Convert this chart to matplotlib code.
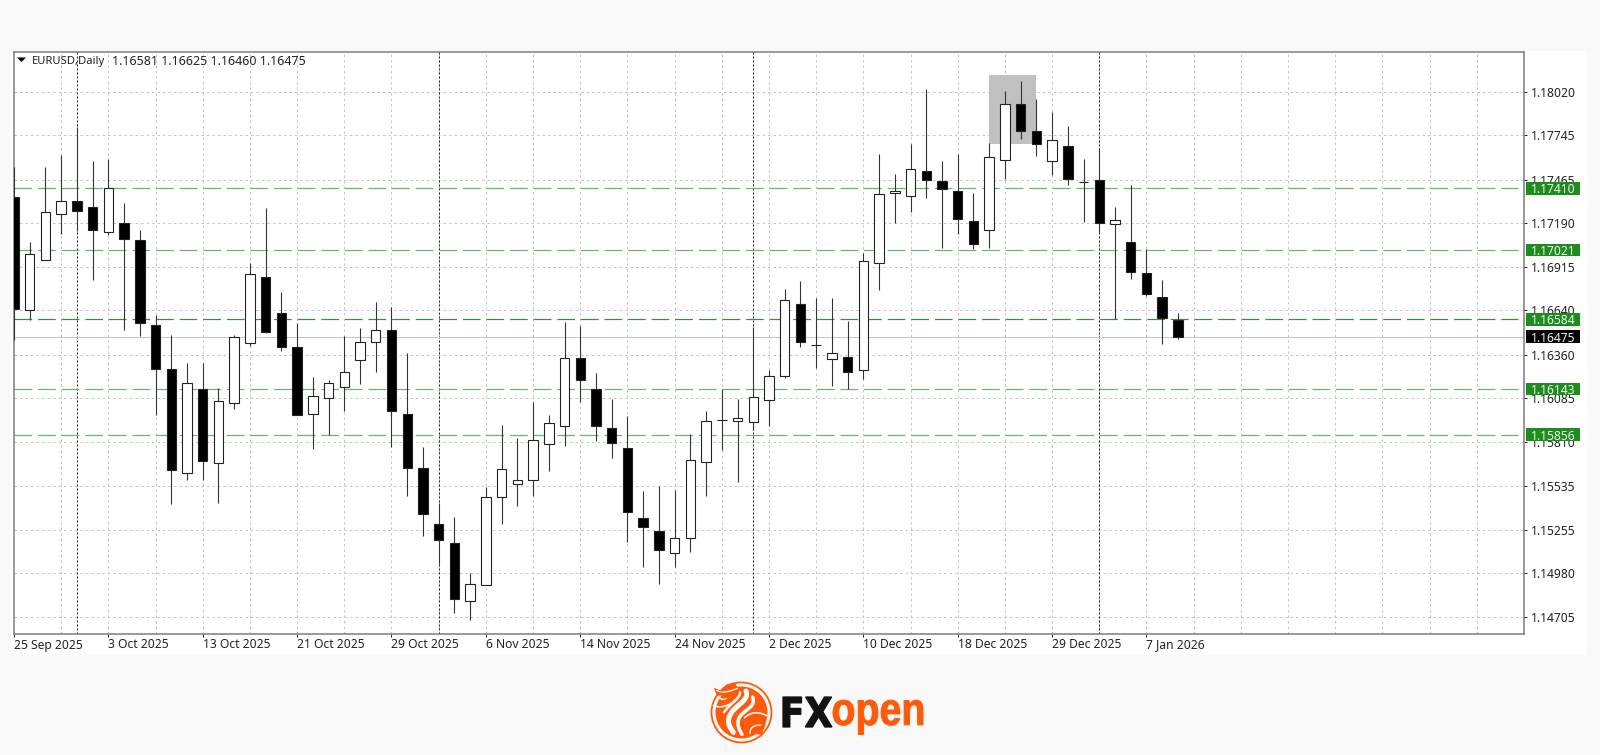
import matplotlib
matplotlib.use("Agg")
import numpy as np
import matplotlib.pyplot as plt
from matplotlib.patches import Circle, Polygon, PathPatch, Rectangle
from matplotlib.path import Path
from matplotlib.textpath import TextPath
from matplotlib.font_manager import FontProperties
from matplotlib.transforms import Affine2D

plt.rcParams["font.family"] = ["Noto Sans", "DejaVu Sans"]
plt.rcParams["lines.scale_dashes"] = False

# ---------------------------------------------------------------------------
# EURUSD daily candles
# ---------------------------------------------------------------------------
opens = [1.17357, 1.16641, 1.16960, 1.17248, 1.17328, 1.17291, 1.17137, 1.17190, 1.17086, 1.16546,
         1.16270, 1.15612, 1.16144, 1.15675, 1.16054, 1.16436, 1.16849, 1.16624, 1.16411, 1.15984,
         1.16085, 1.16155, 1.16329, 1.16443, 1.16516, 1.15988, 1.15647, 1.15292, 1.15174, 1.14806,
         1.14909, 1.15464, 1.15547, 1.15568, 1.15799, 1.15912, 1.16342, 1.16144, 1.15896, 1.15774,
         1.15332, 1.15248, 1.15111, 1.15202, 1.15682, 1.15950, 1.15940, 1.15934, 1.16075, 1.16226,
         1.16680, 1.16424, 1.16335, 1.16348, 1.16266, 1.16939, 1.17383, 1.17360, 1.17522, 1.17457,
         1.17392, 1.17204, 1.17147, 1.17587, 1.17944, 1.17774, 1.17583, 1.17677, 1.17452, 1.17463,
         1.17187, 1.17074, 1.16878, 1.16725, 1.16581]
highs = [1.17547, 1.17074, 1.17545, 1.17621, 1.17795, 1.17585, 1.17595, 1.17316, 1.17147, 1.16611,
         1.16485, 1.16310, 1.16306, 1.16148, 1.16485, 1.16941, 1.17284, 1.16758, 1.16559, 1.16222,
         1.16201, 1.16478, 1.16527, 1.16693, 1.16660, 1.16373, 1.15778, 1.15427, 1.15338, 1.14985,
         1.15528, 1.15915, 1.15835, 1.16062, 1.15982, 1.16565, 1.16543, 1.16247, 1.16083, 1.15976,
         1.15502, 1.15532, 1.15507, 1.15862, 1.16007, 1.16142, 1.16079, 1.16537, 1.16264, 1.16775,
         1.16824, 1.16718, 1.16720, 1.16575, 1.17004, 1.17627, 1.17499, 1.17690, 1.18039, 1.17583,
         1.17627, 1.17379, 1.17694, 1.18024, 1.18086, 1.17972, 1.17894, 1.17804, 1.17595, 1.17663,
         1.17291, 1.17431, 1.17029, 1.16832, 1.16625]
lows = [1.16453, 1.16579, 1.16960, 1.17122, 1.17143, 1.16832, 1.17116, 1.16516, 1.16478, 1.15982,
        1.15420, 1.15572, 1.15572, 1.15427, 1.16018, 1.16417, 1.16496, 1.16386, 1.15982, 1.15765,
        1.15854, 1.16005, 1.16176, 1.16253, 1.15776, 1.15469, 1.15216, 1.15040, 1.14733, 1.14686,
        1.14909, 1.15294, 1.15406, 1.15469, 1.15627, 1.15786, 1.16062, 1.15818, 1.15711, 1.15177,
        1.15021, 1.14912, 1.15019, 1.15114, 1.15469, 1.15759, 1.15555, 1.15885, 1.15911, 1.16215,
        1.16407, 1.16275, 1.16163, 1.16143, 1.16207, 1.16771, 1.17193, 1.17263, 1.17349, 1.17032,
        1.17122, 1.17026, 1.17032, 1.17471, 1.17723, 1.17614, 1.17492, 1.17431, 1.17200, 1.17137,
        1.16584, 1.16840, 1.16729, 1.16426, 1.16460]
closes = [1.16649, 1.16996, 1.17261, 1.17328, 1.17269, 1.17147, 1.17412, 1.17089, 1.16560, 1.16268,
          1.15635, 1.16180, 1.15690, 1.16066, 1.16472, 1.16872, 1.16502, 1.16411, 1.15982, 1.16100,
          1.16180, 1.16251, 1.16443, 1.16516, 1.16003, 1.15646, 1.15357, 1.15191, 1.14817, 1.14914,
          1.15461, 1.15637, 1.15568, 1.15822, 1.15928, 1.16342, 1.16201, 1.15912, 1.15803, 1.15368,
          1.15273, 1.15126, 1.15202, 1.15698, 1.15940, 1.15946, 1.15959, 1.16094, 1.16228, 1.16708,
          1.16441, 1.16420, 1.16369, 1.16253, 1.16950, 1.17373, 1.17395, 1.17532, 1.17463, 1.17406,
          1.17215, 1.17057, 1.17606, 1.17944, 1.17772, 1.17688, 1.17713, 1.17471, 1.17448, 1.17190,
          1.17208, 1.16882, 1.16742, 1.16592, 1.16475]

price_ticks = [1.18020, 1.17745, 1.17465, 1.17190, 1.16915, 1.16640, 1.16360,
               1.16085, 1.15810, 1.15535, 1.15255, 1.14980, 1.14705]
date_labels = ["25 Sep 2025", "3 Oct 2025", "13 Oct 2025", "21 Oct 2025", "29 Oct 2025",
               "6 Nov 2025", "14 Nov 2025", "24 Nov 2025", "2 Dec 2025", "10 Dec 2025",
               "18 Dec 2025", "29 Dec 2025", "7 Jan 2026"]
date_bars = [0, 6, 12, 18, 24, 30, 36, 42, 48, 54, 60, 66, 72]
month_bars = [4, 27, 47, 69]
levels = [1.17410, 1.17021, 1.16584, 1.16143, 1.15856]
level_colors = ["#6fb06f", "#6fb06f", "#3a8f3a", "#6fb06f", "#6fb06f"]
last_price = 1.16475
header_name = "EURUSD,Daily"
header_values = "1.16581 1.16625 1.16460 1.16475"
box_bars = (62, 65)
box_prices = (1.17692, 1.18126)

PX = 1 / 100 * 72  # one pixel in points
W, H = 1600, 755
LEFT, RIGHT, TOP, BOTTOM = 14, 1524.3, 52.3, 634

fig = plt.figure(figsize=(16, 7.55), dpi=100, facecolor="#f9f9f9")

# background panel and logo live on a pixel-sized axes
bg = fig.add_axes([0, 0, 1, 1], zorder=0)
bg.set_xlim(0, W)
bg.set_ylim(H, 0)
bg.axis("off")
bg.add_patch(Rectangle((11, 51), 1576, 604, fc="white", ec="none"))


def emblem(points):
    # emblem outline was measured on a 3x crop starting at (700, 675)
    return [(700 + x / 3, 675 + y / 3) for x, y in points]


def stroke(points, lw, color="white"):
    # points: start plus triples of bezier control points
    codes = [Path.MOVETO] + [Path.CURVE4] * (len(points) - 1)
    bg.add_patch(PathPatch(Path(emblem(points), codes), fc="none", ec=color, lw=lw * PX, capstyle="round"))


def fit_text(s, x0, y0, x1, y1, color, family, edge):
    tp = TextPath((0, 0), s, size=10, prop=FontProperties(family=family, weight="bold"))
    b = tp.get_extents()
    tr = (Affine2D().translate(-b.x0, -b.y1)
          .scale((x1 - x0) / b.width, -(y1 - y0) / b.height)
          .translate(x0, y0))
    bg.add_patch(PathPatch(tp, transform=tr + bg.transData, fc=color, ec=color, lw=edge))


ORANGE = "#ff5a0a"
bg.add_patch(Circle((741.5, 712.5), 30, fc="none", ec=ORANGE, lw=1.3))
bg.add_patch(Circle((741.5, 712.5), 26, fc=ORANGE, ec="none"))
# bull horns and bear head stick out of the disk
bg.add_patch(Polygon(emblem([(42, 38), (60, 46), (80, 28), (104, 22), (118, 46), (96, 62), (50, 62)]),
                     closed=True, fc=ORANGE, ec="none"))
bg.add_patch(Polygon(emblem([(150, 120), (178, 112), (200, 128), (196, 150), (186, 178), (140, 178)]),
                     closed=True, fc=ORANGE, ec="none"))
# white swooshes through the body
stroke([(138, 48), (150, 80), (100, 90), (88, 125), (80, 145), (92, 160), (100, 172)], 5)
stroke([(120, 52), (122, 70), (86, 90), (72, 112)], 2.4)
stroke([(158, 66), (170, 100), (125, 105), (116, 132), (110, 150), (118, 165), (126, 178)], 3.5)
# head and bear outlines
stroke([(40, 92), (60, 100), (90, 95), (112, 68)], 1.6)
stroke([(50, 46), (66, 56), (90, 50), (112, 40)], 1.3)
stroke([(134, 128), (150, 112), (176, 108), (200, 122)], 1.6)
stroke([(150, 176), (148, 160), (160, 150), (182, 150)], 1.3)
stroke([(60, 70), (66, 74), (72, 74), (78, 70)], 1.3)

fit_text("FX", 783, 697, 832, 727, "#111111", "DejaVu Sans", 0.9)
fit_text("open", 833, 700, 923, 734.5, ORANGE, "Liberation Sans", 0.7)

# ---------------------------------------------------------------------------
# Chart
# ---------------------------------------------------------------------------
ax = fig.add_axes([LEFT / W, 1 - BOTTOM / H, (RIGHT - LEFT) / W, (BOTTOM - TOP) / H], zorder=1)
ax.set_facecolor("white")
ax.set_xlim(0, 96.02)
ax.set_ylim(1.14598, 1.18269)
ax.set_axisbelow(True)

for side in ["left", "right", "bottom", "top"]:
    ax.spines[side].set_color("#7a7a7a")
    ax.spines[side].set_linewidth(1.5 * PX)

# grid: every 3rd bar, plus the price ticks
grid_dash = (0, (2.5 * PX, 3 * PX))
for b in range(3, 96, 3):
    ax.axvline(b, color="#c6c6c6", lw=1 * PX, ls=grid_dash, zorder=0.5)
for p in price_ticks:
    ax.axhline(p, color="#c6c6c6", lw=1 * PX, ls=grid_dash, zorder=0.5)
for b in month_bars:
    ax.axvline(b, color="#222222", lw=1 * PX, ls=(0, (2 * PX, 2 * PX)), zorder=0.7)

ax.add_patch(Rectangle((box_bars[0], box_prices[0]), box_bars[1] - box_bars[0],
                       box_prices[1] - box_prices[0], fc="#c0c0c0", ec="none", zorder=1))

# price line and horizontal levels
ax.axhline(last_price, color="#c4c4c4", lw=1 * PX, zorder=1.5)
for lev, col in zip(levels, level_colors):
    ax.plot([0, 95.6], [lev, lev], color=col, lw=1.2 * PX,
            ls=(0, (17.7 * PX, 5.9 * PX)), dash_capstyle="butt", zorder=2)

# candles
bars = np.arange(len(opens))
op, hi, lo, cl = map(np.array, (opens, highs, lows, closes))
ax.vlines(bars, lo, hi, color="#333333", lw=1.1 * PX, zorder=3)
body_low = np.minimum(op, cl)
body_h = np.abs(cl - op)
face = ["white" if c > o else "black" for o, c in zip(op, cl)]
ax.bar(bars, body_h, bottom=body_low, width=0.6, color=face, edgecolor="#222222", linewidth=1.1 * PX, zorder=4)

# axes ticks
ax.yaxis.tick_right()
ax.set_yticks(price_ticks)
ax.set_yticklabels([f"{p:.5f}" for p in price_ticks])
ax.tick_params(axis="y", length=3 * PX, width=1 * PX, color="#222222", pad=4 * PX,
               labelsize=8.7, labelcolor="#222222")
ax.set_xticks(date_bars)
ax.set_xticklabels(date_labels, ha="left")
ax.tick_params(axis="x", length=3 * PX, width=1 * PX, color="#222222", pad=1.5 * PX,
               labelsize=8.7, labelcolor="#222222")

# level labels right of the plot
yt = ax.get_yaxis_transform()
box_x = 1 + 1.7 / (RIGHT - LEFT)
box_w = 54 / (RIGHT - LEFT)
box_h = 12.5 * (1.18269 - 1.14598) / (BOTTOM - TOP)
for lev, txt, col in [(v, f"{v:.5f}", "#1f8c1f") for v in levels] + [(last_price, f"{last_price:.5f}", "black")]:
    ax.add_patch(Rectangle((box_x, lev - box_h / 2), box_w, box_h, transform=yt, fc=col, ec="none",
                           clip_on=False, zorder=6))
    ax.text(box_x + box_w / 2, lev, txt, transform=yt, color="#eef7ee", fontsize=8.7,
            ha="center", va="center_baseline", zorder=7)

# header
ax.add_patch(Polygon([(17, 57.5), (26, 57.5), (21.5, 62)], closed=True, transform=bg.transData, fc="black",
                     ec="none", clip_on=False, zorder=7))
ax.text(18 / (RIGHT - LEFT), 1 - 7.6 / (BOTTOM - TOP), header_name, transform=ax.transAxes, fontsize=8.1,
        color="#222222", ha="left", va="center_baseline", zorder=7)
ax.text(98 / (RIGHT - LEFT), 1 - 7.6 / (BOTTOM - TOP), header_values, transform=ax.transAxes, fontsize=9,
        color="#222222", ha="left", va="center_baseline", zorder=7)

fig.savefig("out.png", dpi=100, facecolor=fig.get_facecolor())
